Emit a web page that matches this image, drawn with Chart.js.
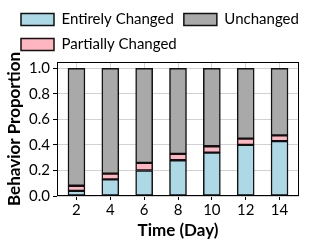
<!DOCTYPE html>
<html>
<head>
<meta charset="utf-8">
<script src="https://cdn.jsdelivr.net/npm/chart.js@4"></script>
<style>
  html, body { margin: 0; padding: 0; background: #fff; }
  #wrap { width: 309px; height: 247px; }
</style>
</head>
<body>
<div id="wrap"><canvas id="myChart" width="309" height="247"></canvas></div>
<script>
// values
const days = [2, 4, 6, 8, 10, 12, 14];
const entirelyChanged = [0.04, 0.13, 0.20, 0.28, 0.34, 0.40, 0.43];
const partiallyChanged = [0.04, 0.045, 0.06, 0.05, 0.05, 0.05, 0.045];
const unchanged = [0.92, 0.825, 0.74, 0.67, 0.61, 0.55, 0.525];
const yTicks = [0, 0.2, 0.4, 0.6, 0.8, 1.0];

const FONT = 'Lato';
const ctx = document.getElementById('myChart').getContext('2d');

// legend reads row by row: Entirely, Unchanged / Partially
const legendOrder = {0: 0, 2: 1, 1: 2};

const frame = {
  id: 'frame',
  afterDatasetsDraw(chart) {
    const a = chart.chartArea, c = chart.ctx;
    c.save();
    c.strokeStyle = '#000';
    c.lineWidth = 1;
    c.strokeRect(a.left + 0.5, a.top + 0.5, a.right - a.left - 1, a.bottom - a.top - 1);
    c.restore();
  }
};

// fixed legend height, and shift it right a bit
const legendTweak = {
  id: 'legendTweak',
  beforeInit(chart) {
    const lg = chart.legend;
    const fit = lg.fit;
    lg.fit = function () {
      fit.bind(lg)();
      this.height = 60;
    };
    const draw = lg.draw;
    lg.draw = function () {
      const l = this.left, r = this.right;
      this.left = l + 11;
      this.right = r + 11;
      draw.bind(lg)();
      this.left = l;
      this.right = r;
    };
  }
};

function toPoints(arr) {
  return arr.map((v, i) => ({x: days[i], y: v}));
}

const myChart = new Chart(ctx, {
  type: 'bar',
  data: {
    datasets: [
      {label: 'Entirely Changed', data: toPoints(entirelyChanged), backgroundColor: '#ADD8E6', borderColor: '#111', borderWidth: 1.5, borderSkipped: false, barThickness: 17},
      {label: 'Partially Changed', data: toPoints(partiallyChanged), backgroundColor: '#FFB6C1', borderColor: '#111', borderWidth: 1.5, borderSkipped: false, barThickness: 17},
      {label: 'Unchanged', data: toPoints(unchanged), backgroundColor: '#A9A9A9', borderColor: '#111', borderWidth: 1.5, borderSkipped: false, barThickness: 17}
    ]
  },
  options: {
    responsive: false,
    animation: false,
    layout: {padding: {left: 0, right: 10, top: 2, bottom: 2}},
    plugins: {
      tooltip: {enabled: false},
      legend: {
        position: 'top',
        align: 'start',
        labels: {
          boxWidth: 33,
          boxHeight: 12,
          padding: 10,
          color: '#000',
          font: {family: FONT, size: 15},
          sort: (a, b) => legendOrder[a.datasetIndex] - legendOrder[b.datasetIndex]
        }
      }
    },
    scales: {
      x: {
        type: 'linear',
        stacked: true,
        offset: false,
        min: 0.85,
        max: 15.15,
        afterBuildTicks: s => { s.ticks = days.map(v => ({value: v})); },
        afterFit: s => { s.height = 49; },
        grid: {offset: false, color: '#d2d2d2', borderDash: [3, 2], tickColor: '#000', tickLength: 4, tickBorderDash: []},
        border: {display: false},
        ticks: {color: '#000', font: {family: FONT, size: 15}, padding: 1},
        title: {display: true, text: 'Time (Day)', color: '#000', font: {family: FONT, size: 17, weight: 'bold'}, padding: {top: 0}}
      },
      y: {
        stacked: true,
        min: 0,
        max: 1.05,
        afterBuildTicks: s => { s.ticks = yTicks.map(v => ({value: v})); },
        afterFit: s => { s.width = 57; },
        grid: {color: '#d2d2d2', borderDash: [3, 2], tickColor: '#000', tickLength: 4, tickBorderDash: []},
        border: {display: false},
        ticks: {color: '#000', font: {family: FONT, size: 15}, padding: 3, callback: v => v.toFixed(1)},
        title: {display: true, text: 'Behavior Proportion', color: '#000', font: {family: FONT, size: 17, weight: 'bold'}, padding: {bottom: 0}}
      }
    }
  },
  plugins: [frame, legendTweak]
});
</script>
</body>
</html>
